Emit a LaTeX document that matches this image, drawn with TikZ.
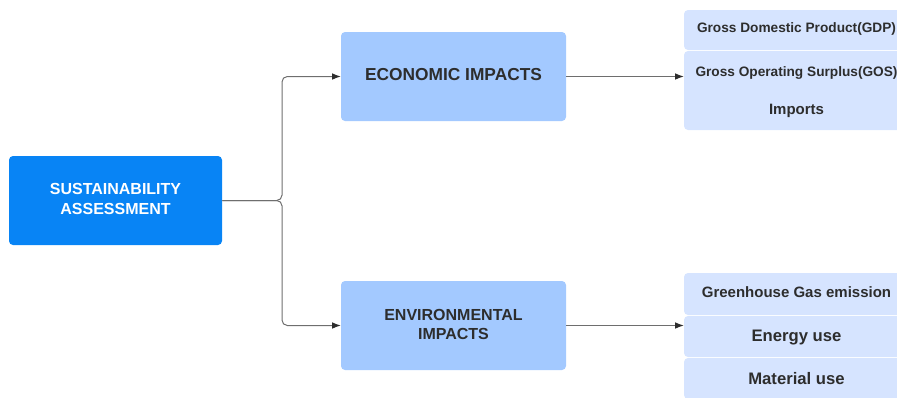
\documentclass[tikz,border=0pt]{standalone}
\usepackage{fontspec}
\setmainfont{Liberation Sans}
\usetikzlibrary{arrows.meta}
\usepackage{xcolor}

\definecolor{rootblue}{RGB}{8,132,245}
\definecolor{midblue}{RGB}{163,201,255}
\definecolor{leafblue}{RGB}{214,228,255}
\definecolor{inkgrey}{RGB}{45,45,45}
\definecolor{linegrey}{RGB}{110,110,110}

\begin{document}
\begin{tikzpicture}[x=0.75pt,y=0.75pt,yscale=-1,xscale=1,
  rootbox/.style={fill=rootblue,rounded corners=3pt,text=white,align=center,
    minimum width=159.75pt,minimum height=66.75pt,inner sep=0.75pt,
    font=\fontsize{12pt}{15pt}\selectfont\bfseries},
  midbox/.style={fill=midblue,rounded corners=3pt,text=inkgrey,align=center,
    minimum width=168.75pt,minimum height=66.75pt,inner sep=0.75pt,
    font=\fontsize{12pt}{14.5pt}\selectfont\bfseries},
  leafbox/.style={fill=leafblue,rounded corners=3pt,text=inkgrey,align=center,
    minimum width=168.75pt,inner sep=0.75pt},
  leaftext/.style={text=inkgrey,inner sep=0.75pt,font=\bfseries},
  link/.style={draw=linegrey,line width=0.75pt,rounded corners=4pt,
    -{Latex[length=6.5pt,width=5pt,color=inkgrey]}}
]
%set diagram: 897 x 397
\useasboundingbox (0,0) rectangle (897,397);
\clip (0,0) rectangle (897,397);

%Shape: Rectangle [root]
\node[rootbox,text depth=3pt] (assess) at (115.5,200.5) {SUSTAINABILITY\\ASSESSMENT};
%Shape: Rectangle [economic]
\node[midbox,text depth=3pt,font=\fontsize{13pt}{15pt}\selectfont\bfseries] (econ) at (453.5,76.5) {ECONOMIC IMPACTS};
%Shape: Rectangle [environmental]
\node[midbox,text depth=1.5pt] (env) at (453.5,325.5) {ENVIRONMENTAL\\IMPACTS};

%Shape: Rectangle [economic leaves]
\node[leafbox,minimum height=30pt] (gdpbox) at (796.5,30) {};
\node[leafbox,minimum height=59.25pt] (gosbox) at (796.5,90.5) {};
%Shape: Rectangle [environmental leaves]
\node[leafbox,minimum height=31.5pt] (ghgbox) at (796.5,294) {};
\node[leafbox,minimum height=30.75pt] (energybox) at (796.5,336.5) {};
\node[leafbox,minimum height=30.75pt] (materialbox) at (796.5,378.5) {};

% Text Node
\node[leaftext,font=\fontsize{10.25pt}{12pt}\selectfont\bfseries] (gdp) at (796.5,29) {Gross Domestic Product(GDP)};
% Text Node
\node[leaftext,font=\fontsize{10.25pt}{12pt}\selectfont\bfseries] (gos) at (796.5,73) {Gross Operating Surplus(GOS)};
% Text Node
\node[leaftext,font=\fontsize{11.25pt}{13pt}\selectfont\bfseries] (imports) at (796.5,110.5) {Imports};
% Text Node
\node[leaftext,font=\fontsize{11.25pt}{13pt}\selectfont\bfseries] (ghg) at (796.5,292.5) {Greenhouse Gas emission};
% Text Node
\node[leaftext,font=\fontsize{12.5pt}{14pt}\selectfont\bfseries] (energy) at (796.5,337.5) {Energy use};
% Text Node
\node[leaftext,font=\fontsize{12.5pt}{14pt}\selectfont\bfseries] (material) at (796.5,378.5) {Material use};

%Straight Lines [connectors]
\coordinate (split) at (282,200.5);
\draw[link] (assess.east) -- (split) |- (econ.west);
\draw[link] (assess.east) -- (split) |- (env.west);
\draw[link] (econ.east) -- (econ.east -| gosbox.west);
\draw[link] (env.east) -- (env.east -| energybox.west);

\end{tikzpicture}
\end{document}
